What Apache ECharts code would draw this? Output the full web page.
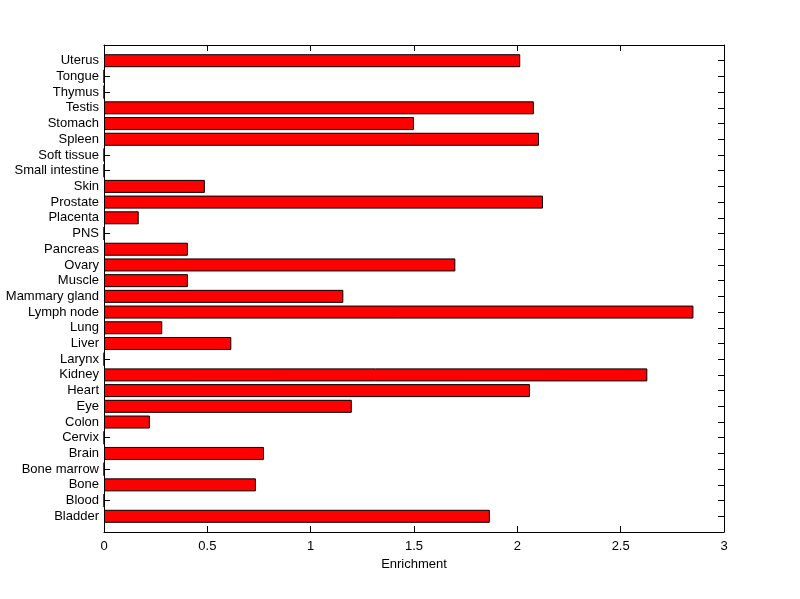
<!DOCTYPE html>
<html>
<head>
<meta charset="utf-8">
<script src="https://cdn.jsdelivr.net/npm/echarts@6/dist/echarts.min.js"></script>
<style>html,body{margin:0;padding:0;background:#fff;}#c{width:800px;height:599px;}</style>
</head>
<body>
<div id="c"></div>
<script>
const categories = ["Bladder","Blood","Bone","Bone marrow","Brain","Cervix","Colon","Eye","Heart","Kidney","Larynx","Liver","Lung","Lymph node","Mammary gland","Muscle","Ovary","Pancreas","PNS","Placenta","Prostate","Skin","Small intestine","Soft tissue","Spleen","Stomach","Testis","Thymus","Tongue","Uterus"];
const enrichment = [1.867,0,0.735,0,0.774,0,0.222,1.199,2.061,2.629,0,0.616,0.282,2.852,1.158,0.406,1.700,0.406,0,0.168,2.124,0.488,0,0,2.105,1.500,2.080,0,0,2.014];
const xTicks = [0,0.5,1,1.5,2,2.5,3];

// pad the category axis with one empty slot at each end (axis limits 0..31)
const yCats = [''].concat(categories, ['']);
const barData = [null].concat(enrichment, [null]);

const chart = echarts.init(document.getElementById('c'), null, {renderer:'canvas'});
const font = 'Liberation Sans, Arial, sans-serif';
const axisLine = {show:true, onZero:false, lineStyle:{color:'#000', width:1}};
const catTickInterval = function(i, v){ return v !== ''; };
function tick(){ return {show:true, inside:true, length:6, lineStyle:{color:'#000', width:1}}; }
chart.setOption({
  animation:false,
  backgroundColor:'#fff',
  grid:{left:104, right:76, top:45, bottom:67, containLabel:false},
  xAxis:[{
    type:'value', min:0, max:3, interval:0.5, position:'bottom',
    name:'Enrichment', nameLocation:'middle', nameGap:24,
    nameTextStyle:{color:'#000', fontFamily:font, fontSize:13},
    axisLine:axisLine,
    axisTick:tick(),
    axisLabel:{color:'#000', fontFamily:font, fontSize:13, margin:8,
      formatter:function(v){ return xTicks.indexOf(v)>=0 ? String(v) : ''; }},
    splitLine:{show:false}
  },{
    type:'value', min:0, max:3, interval:0.5, position:'top', show:true,
    axisLine:axisLine,
    axisTick:tick(),
    axisLabel:{show:false}, splitLine:{show:false}
  }],
  yAxis:[{
    type:'category', data:yCats, position:'left', boundaryGap:false,
    axisLine:axisLine,
    axisTick:Object.assign({interval:catTickInterval}, tick()),
    axisLabel:{color:'#000', fontFamily:font, fontSize:13, margin:5, interval:0},
    splitLine:{show:false}
  },{
    type:'category', data:yCats, position:'right', boundaryGap:false, show:true,
    axisLine:axisLine,
    axisTick:Object.assign({interval:catTickInterval}, tick()),
    axisLabel:{show:false},
    splitLine:{show:false}
  }],
  series:[{
    type:'bar', data:barData, xAxisIndex:0, yAxisIndex:0,
    barWidth:13,
    itemStyle:{color:'#ff0000', borderColor:'#000', borderWidth:1}
  }]
});
</script>
</body>
</html>
